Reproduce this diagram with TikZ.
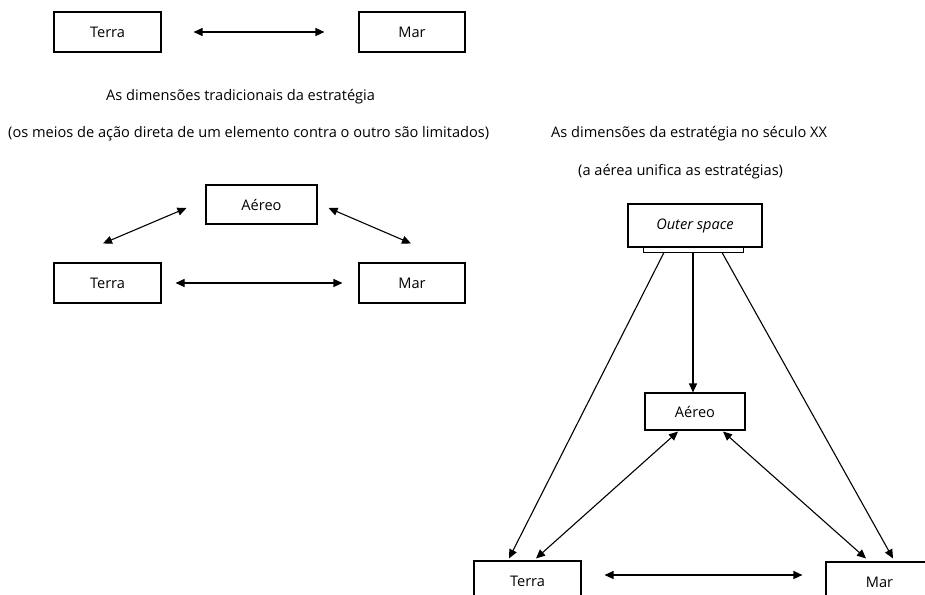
\documentclass[tikz,border=0pt]{standalone}
\usepackage{fontspec}
\setmainfont{Open Sans}
\usetikzlibrary{arrows.meta}
\tikzset{
  txtfont/.style={font=\fontsize{14.6}{17}\selectfont},
  box/.style={draw, line width=1.1pt, inner sep=0pt, txtfont},
  lbl/.style={inner sep=0pt, txtfont},
  conn/.style={line width=1.1pt, -{Triangle[length=9pt,width=8pt]}},
  dconn/.style={line width=1.1pt, {Triangle[length=9pt,width=8pt]}-{Triangle[length=9pt,width=8pt]}}
}
\begin{document}
\begin{tikzpicture}[x=1pt,y=-1pt]
\useasboundingbox (0,0) rectangle (925,594);
\clip (0,0) rectangle (925,594);
\fill[white] (0,0) rectangle (925,594);
% top row
\node[box, minimum width=107pt, minimum height=40pt] (t1) at (107.5,32) {Terra};
\node[box, minimum width=106pt, minimum height=40pt] (m1) at (412,32) {Mar};
\draw[dconn, shorten <=32pt, shorten >=34pt] (t1.east) -- (m1.west);
% captions
\node[lbl, anchor=west] (c1) at (106,97) {As dimensões tradicionais da estratégia};
\node[lbl, anchor=west] (c2) at (8,134) {(os meios de ação direta de um elemento contra o outro são limitados)};
\node[lbl, anchor=west] (c3) at (551,134) {As dimensões da estratégia no século XX};
\node[lbl, anchor=west] (c4) at (578,172) {(a aérea unifica as estratégias)};
% middle diagram
\node[box, minimum width=111pt, minimum height=39pt] (a2) at (261.5,204.5) {Aéreo};
\node[box, minimum width=107pt, minimum height=40pt] (t2) at (107.5,283) {Terra};
\node[box, minimum width=106pt, minimum height=40pt] (m2) at (412,283) {Mar};
\draw[dconn, shorten <=14pt, shorten >=16pt] (t2.east) -- (m2.west);
\draw[dconn] ([shift={(-4.5,-19)}]t2.north) -- ([shift={(-19,3.5)}]a2.west);
\draw[dconn] ([shift={(11,3.5)}]a2.east) -- ([shift={(-1,-19)}]m2.north);
% right diagram
\node[box, minimum width=134pt, minimum height=43pt, font=\fontsize{14.6}{17}\selectfont\itshape] (os) at (695,225.5) {Outer space};
\node[draw, line width=0.9pt, inner sep=0pt, minimum width=100pt, minimum height=5pt] (osb) at (693,249.5) {};
\node[box, minimum width=100pt, minimum height=37pt] (a3) at (695,411.5) {Aéreo};
\node[box, minimum width=107pt, minimum height=40pt] (t3) at (527.5,581) {Terra};
\node[box, minimum width=107pt, minimum height=40pt] (m3) at (879.5,582) {Mar};
\draw[conn] (osb.south) -- ([xshift=-2pt]a3.north);
\draw[conn] ([xshift=-29pt]osb.south) -- ([shift={(-18.5,-2)}]t3.north);
\draw[conn] ([xshift=29pt]osb.south) -- ([shift={(13.5,-3)}]m3.north);
\draw[dconn] ([shift={(8.5,-2)}]t3.north) -- ([shift={(-17,1)}]a3.south);
\draw[dconn] ([shift={(28,1)}]a3.south) -- ([shift={(-13.5,-3)}]m3.north);
\draw[dconn] ([shift={(23,-6)}]t3.east) -- ([shift={(-23,-7)}]m3.west);
\end{tikzpicture}
\end{document}
